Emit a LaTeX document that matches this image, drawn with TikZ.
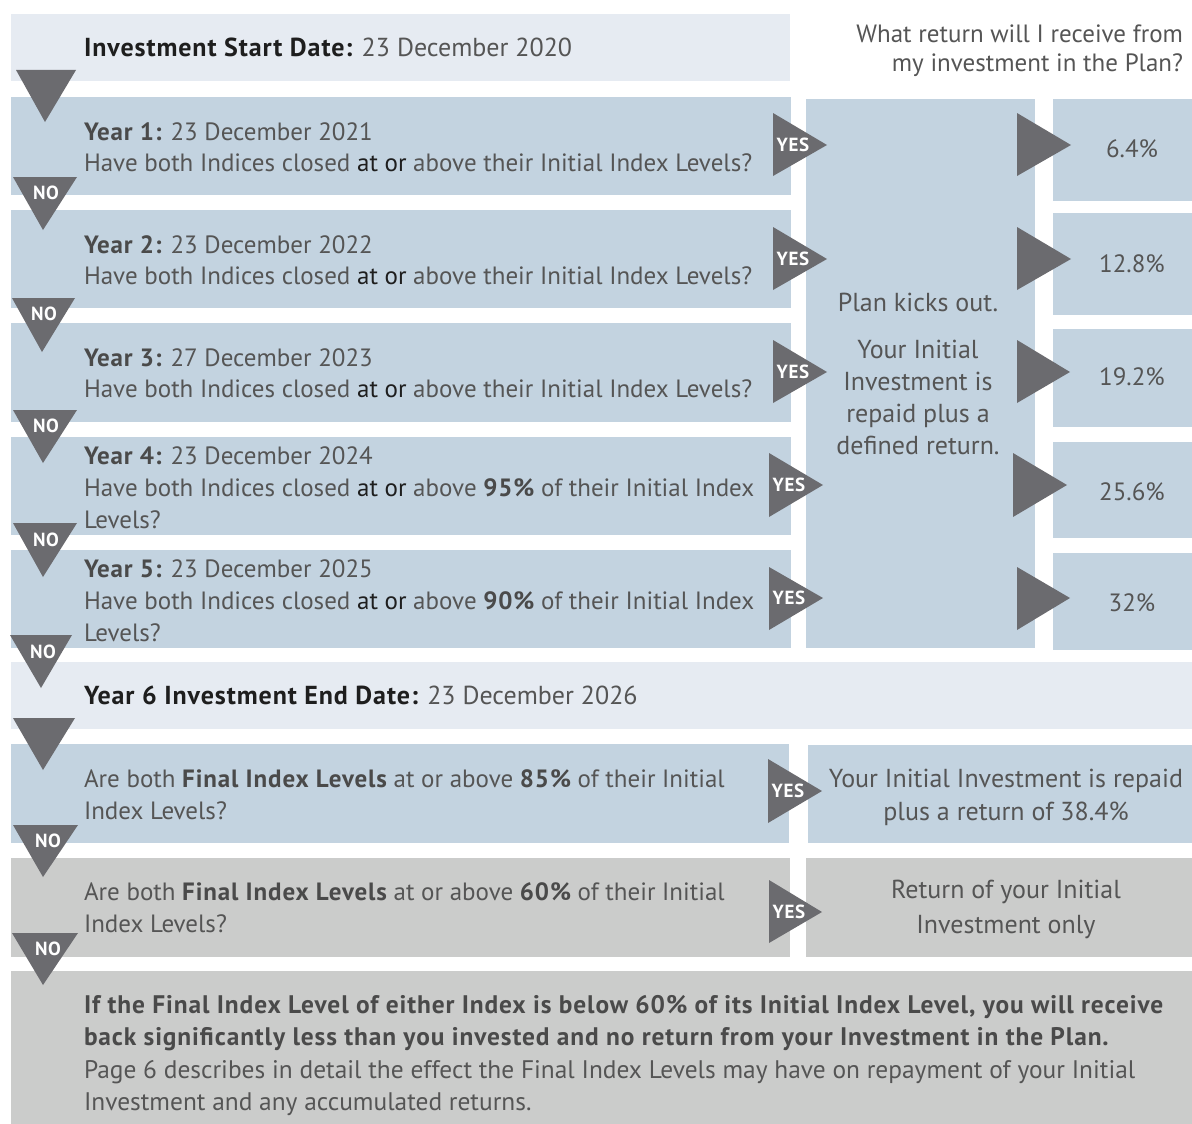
\documentclass[tikz,border=0pt]{standalone}
\usepackage{fontspec}
\setmainfont{PT Sans}[BoldFeatures={LetterSpace=3.5}]
\definecolor{cLight}{HTML}{E6EBF2}
\definecolor{cBlue}{HTML}{C3D3E0}
\definecolor{cGray}{HTML}{CBCCCB}
\definecolor{cTri}{HTML}{6B6B6F}
\definecolor{cText}{HTML}{555555}
\definecolor{cBold}{HTML}{4A4A4A}
\definecolor{cHead}{HTML}{1E1E1E}
\tikzset{
  box/.style={inner sep=0pt, outer sep=0pt, anchor=north west, draw=none},
  lightbox/.style={box, fill=cLight},
  bluebox/.style={box, fill=cBlue},
  graybox/.style={box, fill=cGray},
  txt/.style={anchor=base west, inner sep=0pt, outer sep=0pt, text=cText, font=\fontsize{25}{30}\selectfont},
  headtxt/.style={txt, font=\fontsize{26}{30}\selectfont},
  warntxt/.style={txt, font=\fontsize{25.4}{30}\selectfont},
  ctxt/.style={txt, anchor=base},
  btxt/.style={txt, anchor=base, font=\fontsize{26}{30}\selectfont},
  rtxt/.style={txt, anchor=base east},
  tri/.style={fill=cTri},
  yeslab/.style={inner sep=0pt, text=white, font=\fontsize{19}{19}\selectfont\bfseries},
}
\newcommand{\hb}[1]{{\bfseries\color{cHead}#1}}
\newcommand{\yb}[1]{{\bfseries\color{cBold}#1}}
\newcommand{\ao}{{\color{cHead}at or}}
\begin{document}
\begin{tikzpicture}[x=1pt,y=-1pt]
\useasboundingbox (0,0) rectangle (1192,1124);
% boxes
\node[lightbox, minimum width=779pt, minimum height=67pt] (start) at (11,14) {};
\node[bluebox, minimum width=780pt, minimum height=98pt] (y1) at (11,97) {};
\node[bluebox, minimum width=780pt, minimum height=98pt] (y2) at (11,210) {};
\node[bluebox, minimum width=780pt, minimum height=99pt] (y3) at (11,323) {};
\node[bluebox, minimum width=780pt, minimum height=98pt] (y4) at (11,437) {};
\node[bluebox, minimum width=780pt, minimum height=98pt] (y5) at (11,550) {};
\node[bluebox, minimum width=229pt, minimum height=549pt] (mid) at (806,99) {};
\node[bluebox, minimum width=139pt, minimum height=102pt] (r1) at (1053,99) {};
\node[bluebox, minimum width=139pt, minimum height=102pt] (r2) at (1053,213) {};
\node[bluebox, minimum width=139pt, minimum height=98pt] (r3) at (1053,329) {};
\node[bluebox, minimum width=139pt, minimum height=96pt] (r4) at (1053,442) {};
\node[bluebox, minimum width=139pt, minimum height=97pt] (r5) at (1053,553) {};
\node[lightbox, minimum width=1181pt, minimum height=67pt] (y6) at (11,662) {};
\node[bluebox, minimum width=778pt, minimum height=99pt] (f85) at (11,744) {};
\node[bluebox, minimum width=384pt, minimum height=98pt] (res85) at (808,745) {};
\node[graybox, minimum width=779pt, minimum height=99pt] (f60) at (11,858) {};
\node[graybox, minimum width=386pt, minimum height=99pt] (res60) at (806,858) {};
\node[graybox, minimum width=1181pt, minimum height=153pt] (bot) at (11,971) {};
% down triangles
\fill[tri] (16,70) -- (76,70) -- (45,122) -- cycle;
\fill[tri] (13,177) -- (77,177) -- (43,230) -- cycle;
\fill[tri] (12,298) -- (75,298) -- (42,352) -- cycle;
\fill[tri] (13,410) -- (77,410) -- (43,463) -- cycle;
\fill[tri] (13,523) -- (77,523) -- (43,577) -- cycle;
\fill[tri] (10,635) -- (72,635) -- (41,688) -- cycle;
\fill[tri] (13,718) -- (75,718) -- (43,770) -- cycle;
\fill[tri] (13,825) -- (78,825) -- (43,877) -- cycle;
\fill[tri] (12,933) -- (78,933) -- (43,985) -- cycle;
\foreach \x/\y in {46/193, 44/314, 46/426, 46/540, 43/652, 48/841, 48/949}
  \node[yeslab] at (\x,\y) {NO};
% yes triangles
\fill[tri] (773,113) -- (773,176) -- (827,145) -- cycle;
\fill[tri] (773,227) -- (773,290) -- (827,259) -- cycle;
\fill[tri] (773,340) -- (773,403) -- (827,372) -- cycle;
\fill[tri] (769,453) -- (769,517) -- (823,485) -- cycle;
\fill[tri] (769,567) -- (769,630) -- (823,598) -- cycle;
\fill[tri] (768,759) -- (768,823) -- (822,791) -- cycle;
\fill[tri] (769,880) -- (769,943) -- (822,912) -- cycle;
\foreach \x/\y in {793/145, 793/259, 793/372, 789/485, 789/598, 788/791, 789/912}
  \node[yeslab] at (\x,\y) {YES};
% big right triangles
\fill[tri] (1017,113) -- (1017,176) -- (1071,145) -- cycle;
\fill[tri] (1017,227) -- (1017,290) -- (1071,259) -- cycle;
\fill[tri] (1017,340) -- (1017,403) -- (1070,372) -- cycle;
\fill[tri] (1013,453) -- (1013,517) -- (1067,485) -- cycle;
\fill[tri] (1017,567) -- (1017,630) -- (1070,598) -- cycle;
% texts
\node[rtxt] (q1) at (1183,43) {What return will I receive from};
\node[rtxt] (q2) at (1183,72) {my investment in the Plan?};
\node[headtxt] (t0) at (84,57) {\hb{Investment Start Date:} 23 December 2020};
\node[txt] (t1a) at (84,140) {\yb{Year 1:} 23 December 2021};
\node[txt] (t1b) at (84,171) {Have both Indices closed \ao{} above their Initial Index Levels?};
\node[txt] (t2a) at (84,253) {\yb{Year 2:} 23 December 2022};
\node[txt] (t2b) at (84,284) {Have both Indices closed \ao{} above their Initial Index Levels?};
\node[txt] (t3a) at (84,366) {\yb{Year 3:} 27 December 2023};
\node[txt] (t3b) at (84,397) {Have both Indices closed \ao{} above their Initial Index Levels?};
\node[txt] (t4a) at (84,464) {\yb{Year 4:} 23 December 2024};
\node[txt] (t4b) at (84,496) {Have both Indices closed \ao{} above \yb{95\%} of their Initial Index};
\node[txt] (t4c) at (84,528) {Levels?};
\node[txt] (t5a) at (84,577) {\yb{Year 5:} 23 December 2025};
\node[txt] (t5b) at (84,609) {Have both Indices closed \ao{} above \yb{90\%} of their Initial Index};
\node[txt] (t5c) at (84,641) {Levels?};
\node[headtxt] (t6) at (84,704) {\hb{Year 6 Investment End Date:} 23 December 2026};
\node[txt] (t7a) at (84,787) {Are both \yb{Final Index Levels} at or above \yb{85\%} of their Initial};
\node[txt] (t7b) at (84,819) {Index Levels?};
\node[txt] (t8a) at (84,900) {Are both \yb{Final Index Levels} at or above \yb{60\%} of their Initial};
\node[txt] (t8b) at (84,932) {Index Levels?};
\node[warntxt] (t9a) at (84,1013) {\yb{If the Final Index Level of either Index is below 60\% of its Initial Index Level, you will receive}};
\node[warntxt] (t9b) at (84,1045) {\yb{back significantly less than you invested and no return from your Investment in the Plan.}};
\node[warntxt] (t9c) at (84,1078) {Page 6 describes in detail the effect the Final Index Levels may have on repayment of your Initial};
\node[warntxt] (t9d) at (84,1110) {Investment and any accumulated returns.};
% middle
\node[btxt] (m1) at (918,311) {Plan kicks out.};
\node[btxt] (m2) at (918,358) {Your Initial};
\node[btxt] (m3) at (918,390) {Investment is};
\node[btxt] (m4) at (918,422) {repaid plus a};
\node[btxt] (m5) at (918,454) {defined return.};
% percentages
\node[ctxt] (p1) at (1132,157) {6.4\%};
\node[ctxt] (p2) at (1132,272) {12.8\%};
\node[ctxt] (p3) at (1132,385) {19.2\%};
\node[ctxt] (p4) at (1132,500) {25.6\%};
\node[ctxt] (p5) at (1132,611) {32\%};
% results
\node[btxt] (e1) at (1006,787) {Your Initial Investment is repaid};
\node[btxt] (e2) at (1006,820) {plus a return of 38.4\%};
\node[btxt] (e3) at (1006,898) {Return of your Initial};
\node[btxt] (e4) at (1006,933) {Investment only};
\end{tikzpicture}
\end{document}
